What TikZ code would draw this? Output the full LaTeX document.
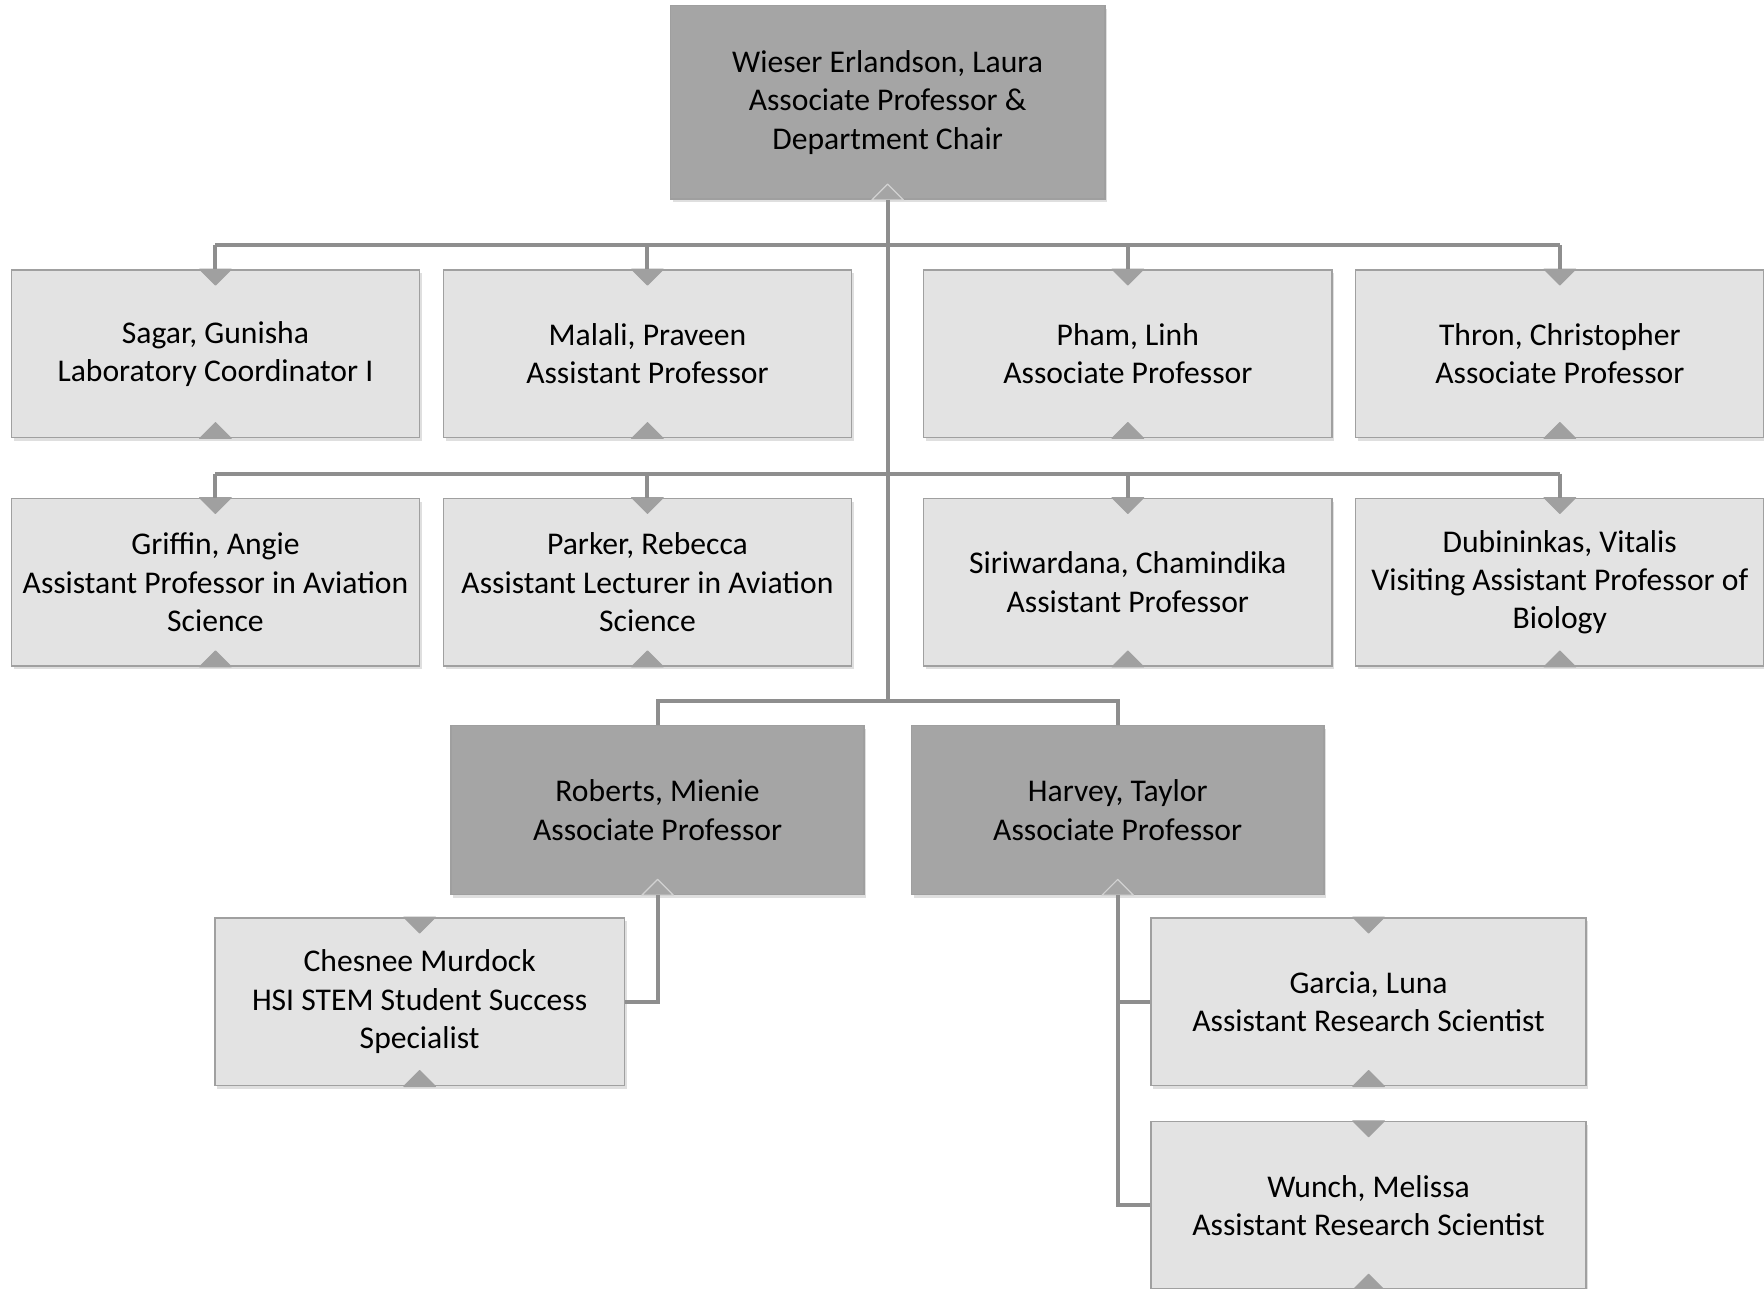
\documentclass[tikz,border=0pt]{standalone}
\usepackage{fontspec}
\setmainfont{Carlito}
\usetikzlibrary{shadows}
\definecolor{chairgray}{HTML}{A5A5A5}
\definecolor{staffgray}{HTML}{E3E3E3}
\definecolor{edgegray}{HTML}{A0A0A0}
\definecolor{linegray}{HTML}{8E8E8E}

\begin{document}
\begin{tikzpicture}[x=0.02cm, y=-0.02cm,
  box/.style={draw=edgegray, line width=0.8pt, fill=staffgray, align=center, inner sep=0pt,
    minimum width=7.26cm, minimum height=2.98cm, font=\fontsize{16}{19.4}\selectfont,
    drop shadow={shadow xshift=0.04cm, shadow yshift=-0.06cm, opacity=0.25}},
  lead/.style={box, fill=chairgray, draw=gray!75, minimum width=7.34cm, minimum height=3cm},
  orgline/.style={draw=linegray, line width=2pt},
  notchmark/.style={fill=edgegray, draw=edgegray, line width=0.6pt, line join=round},
  leadnotch/.style={fill=chairgray, draw=gray!35, line width=0.6pt, line join=round}]
\useasboundingbox (0,0) rectangle (1568,1145);

\node[lead, minimum width=7.72cm, minimum height=3.44cm] (chair) at (789,91) {Wieser Erlandson, Laura\\Associate Professor \&\\Department Chair};

\node[box] (sagar) at (191.5,314.5) {Sagar, Gunisha\\Laboratory Coordinator I};
\node[box] (malali) at (575.5,314.5) {Malali, Praveen\\Assistant Professor};
\node[box] (pham) at (1002.5,314.5) {Pham, Linh\\Associate Professor};
\node[box] (thron) at (1386.5,314.5) {Thron, Christopher\\Associate Professor};

\node[box] (griffin) at (191.5,517.5) {Griffin, Angie\\Assistant Professor in Aviation\\Science};
\node[box] (parker) at (575.5,517.5) {Parker, Rebecca\\Assistant Lecturer in Aviation\\Science};
\node[box] (siri) at (1002.5,517.5) {Siriwardana, Chamindika\\Assistant Professor};
\node[box] (dubin) at (1386.5,517.5) {Dubininkas, Vitalis\\Visiting Assistant Professor of\\Biology};

\node[lead] (roberts) at (584.5,720) {Roberts, Mienie\\Associate Professor};
\node[lead] (harvey) at (993.5,720) {Harvey, Taylor\\Associate Professor};

\node[box, minimum width=7.28cm] (chesnee) at (373,890.5) {Chesnee Murdock\\HSI STEM Student Success\\Specialist};
\node[box, minimum width=7.74cm] (garcia) at (1216.5,890.5) {Garcia, Luna\\Assistant Research Scientist};
\node[box, minimum width=7.74cm] (wunch) at (1216.5,1071.5) {Wunch, Melissa\\Assistant Research Scientist};

\foreach \n in {sagar,malali,pham,thron,griffin,parker,siri,dubin,chesnee,garcia,wunch}{
  \filldraw[notchmark] (\n.north) ++(-14,0) -- ++(14,14) -- ++(14,-14) -- cycle;
  \filldraw[notchmark] (\n.south) ++(-14,0) -- ++(14,-14) -- ++(14,14) -- cycle;
}
\foreach \n in {chair,roberts,harvey}{
  \filldraw[leadnotch] (\n.south) ++(-14,0) -- ++(14,-14) -- ++(14,14) -- cycle;
}

\coordinate (bus1) at (789,218);
\coordinate (bus2) at (789,421);
\coordinate (split) at (789,623);
\draw[orgline] (chair.south) -- (split);
\draw[orgline] (sagar.north |- bus1) -- (thron.north |- bus1);
\draw[orgline] (griffin.north |- bus2) -- (dubin.north |- bus2);
\foreach \n in {sagar,malali,pham,thron}
  \draw[orgline] (\n.north |- bus1) -- (\n.north);
\foreach \n in {griffin,parker,siri,dubin}
  \draw[orgline] (\n.north |- bus2) -- (\n.north);
\draw[orgline] (roberts.north) |- (split) -| (harvey.north);
\draw[orgline] (roberts.south) |- (chesnee.east);
\draw[orgline] (harvey.south) |- (garcia.west);
\draw[orgline] (harvey.south) |- (wunch.west);
\end{tikzpicture}
\end{document}
